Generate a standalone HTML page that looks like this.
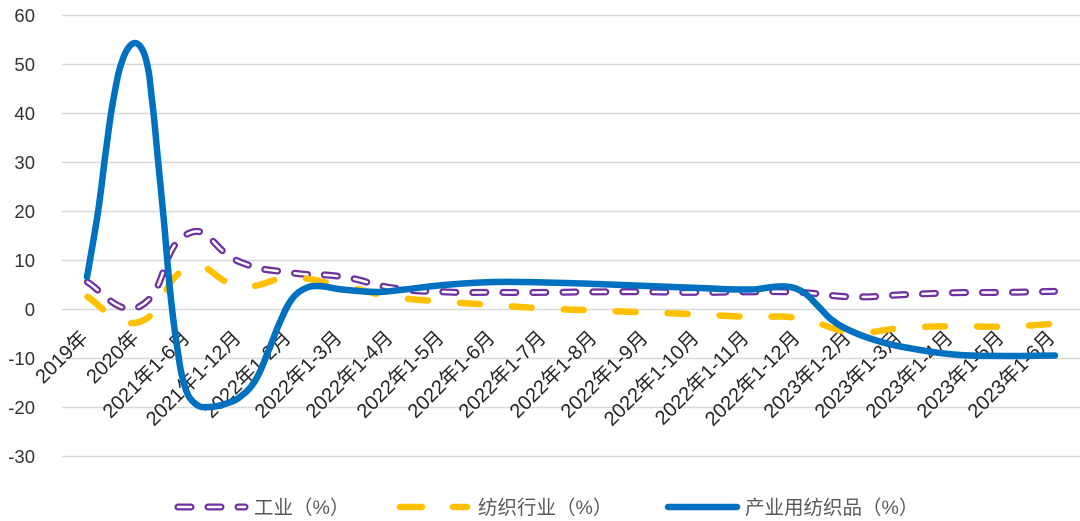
<!DOCTYPE html>
<html><head><meta charset="utf-8">
<style>
html,body{margin:0;padding:0;background:#fff;}
svg{display:block;}
text{font-family:"Liberation Sans","Noto Sans CJK SC",sans-serif;}
</style></head><body>
<svg id="c" width="1080" height="521" viewBox="0 0 1080 521" xmlns="http://www.w3.org/2000/svg">
<rect width="1080" height="521" fill="#fff"/>
<g stroke="#d9d9d9" stroke-width="1.4">
<line x1="62" y1="15.5" x2="1080" y2="15.5"/>
<line x1="62" y1="64.5" x2="1080" y2="64.5"/>
<line x1="62" y1="113.5" x2="1080" y2="113.5"/>
<line x1="62" y1="162.5" x2="1080" y2="162.5"/>
<line x1="62" y1="211.5" x2="1080" y2="211.5"/>
<line x1="62" y1="260.5" x2="1080" y2="260.5"/>
<line x1="62" y1="309.5" x2="1080" y2="309.5"/>
<line x1="62" y1="358.5" x2="1080" y2="358.5"/>
<line x1="62" y1="407.5" x2="1080" y2="407.5"/>
<line x1="62" y1="456.5" x2="1080" y2="456.5"/>
</g>
<g font-size="18.5" fill="#333" text-anchor="end">
<text x="35" y="22">60</text>
<text x="35" y="71">50</text>
<text x="35" y="120">40</text>
<text x="35" y="169">30</text>
<text x="35" y="218">20</text>
<text x="35" y="267">10</text>
<text x="35" y="316">0</text>
<text x="35" y="365">-10</text>
<text x="35" y="414">-20</text>
<text x="35" y="463">-30</text>
</g>
<g id="xl" font-size="20" fill="#262626" text-anchor="end">
<text x="89" y="339" transform="rotate(-45 89 339)">2019年</text>
<text x="140" y="339" transform="rotate(-45 140 339)">2020年</text>
<text x="191" y="339" transform="rotate(-45 191 339)">2021年1-6月</text>
<text x="242" y="339" transform="rotate(-45 242 339)">2021年1-12月</text>
<text x="292" y="339" transform="rotate(-45 292 339)">2022年1-2月</text>
<text x="343" y="339" transform="rotate(-45 343 339)">2022年1-3月</text>
<text x="394" y="339" transform="rotate(-45 394 339)">2022年1-4月</text>
<text x="445" y="339" transform="rotate(-45 445 339)">2022年1-5月</text>
<text x="496" y="339" transform="rotate(-45 496 339)">2022年1-6月</text>
<text x="547" y="339" transform="rotate(-45 547 339)">2022年1-7月</text>
<text x="598" y="339" transform="rotate(-45 598 339)">2022年1-8月</text>
<text x="649" y="339" transform="rotate(-45 649 339)">2022年1-9月</text>
<text x="700" y="339" transform="rotate(-45 700 339)">2022年1-10月</text>
<text x="750" y="339" transform="rotate(-45 750 339)">2022年1-11月</text>
<text x="801" y="339" transform="rotate(-45 801 339)">2022年1-12月</text>
<text x="852" y="339" transform="rotate(-45 852 339)">2023年1-2月</text>
<text x="903" y="339" transform="rotate(-45 903 339)">2023年1-3月</text>
<text x="954" y="339" transform="rotate(-45 954 339)">2023年1-4月</text>
<text x="1005" y="339" transform="rotate(-45 1005 339)">2023年1-5月</text>
<text x="1056" y="339" transform="rotate(-45 1056 339)">2023年1-6月</text>
</g>
<g fill="none" stroke-linecap="round" stroke-linejoin="round">
<path id="pO" stroke="#7030A0" stroke-width="7" stroke-dasharray="13 17" d=""/>
<path id="pI" stroke="#ffffff" stroke-width="2.5" stroke-dasharray="13 17" d=""/>
<path id="yl" stroke="#FFC000" stroke-width="6.5" stroke-dasharray="20 32" d=""/>
<path id="bl" stroke="#0070C0" stroke-width="6.5" d=""/>
</g>
<!-- legend -->
<g fill="none" stroke-linecap="round">
<path d="M178 507 H245" stroke="#7030A0" stroke-width="7" stroke-dasharray="13 17"/>
<path d="M178 507 H245" stroke="#ffffff" stroke-width="2.5" stroke-dasharray="13 17"/>
<path d="M400 507 H422 M453 507 H467" stroke="#FFC000" stroke-width="6.5"/>
<path d="M668 507 H737" stroke="#0070C0" stroke-width="6.5"/>
</g>
<g font-size="19.5" fill="#595959">
<text x="254" y="514">工业（%）</text>
<text x="478" y="514">纺织行业（%）</text>
<text x="745" y="514">产业用纺织品（%）</text>
</g>
</svg>
<script>
(function(){
  var X0=87.45, DX=50.9;
  function Y(v){return 309.5-4.9*v;}
  function pts(vals){return vals.map(function(v,i){return [X0+i*DX, Y(v)];});}
  function smooth(p,s){
    var n=p.length, cin=[], cout=[];
    for(var i=0;i<n;i++){
      if(i===0||i===n-1){
        var q=(i===0)?p[1]:p[n-2];
        var t=[(q[0]-p[i][0])/3,(q[1]-p[i][1])/3];
        if(i===0){cout[i]=[p[i][0]+t[0]*0.6,p[i][1]+t[1]*0.6];}
        else{cin[i]=[p[i][0]+t[0]*0.6,p[i][1]+t[1]*0.6];}
        continue;
      }
      var T=[p[i+1][0]-p[i-1][0],p[i+1][1]-p[i-1][1]];
      var d1=Math.hypot(p[i][0]-p[i-1][0],p[i][1]-p[i-1][1]);
      var d2=Math.hypot(p[i+1][0]-p[i][0],p[i+1][1]-p[i][1]);
      var a=s*d1/(d1+d2), b=s*d2/(d1+d2);
      cin[i]=[p[i][0]-T[0]*a,p[i][1]-T[1]*a];
      cout[i]=[p[i][0]+T[0]*b,p[i][1]+T[1]*b];
    }
    var d="M"+p[0][0].toFixed(1)+" "+p[0][1].toFixed(1);
    for(var j=0;j<n-1;j++){
      d+=" C"+cout[j][0].toFixed(1)+" "+cout[j][1].toFixed(1)+" "+cin[j+1][0].toFixed(1)+" "+cin[j+1][1].toFixed(1)+" "+p[j+1][0].toFixed(1)+" "+p[j+1][1].toFixed(1);
    }
    return d;
  }
  var bluePts=[[87,277],[98,212],[106,150],[114,96],[124,56],[135,43],[145,56],[152,100],[158,160],[164,222],[170,290],[177,346],[186,390],[197,405],[210,407],[225,404],[240,397],[255,381],[268,352],[280,322],[292,299],[305,288.5],[318,286],[342,289.5],[377,292],[400,290],[444,285],[495,282],[546,282.5],[597,284],[648,286],[699,288],[750,289.5],[785,286.5],[803,292],[818,306],[832,320],[852,331.5],[878,341],[903,347],[954,354.5],[1005,356],[1055,355.5]];
  var purple=[5.6,0.5,15.6,9.7,7.5,6.7,4.4,3.6,3.5,3.5,3.6,3.6,3.5,3.6,3.5,2.6,3.0,3.4,3.5,3.7];
  var yellow=[2.6,-2.6,8.6,4.8,6.4,4.8,2.6,1.6,0.9,0.2,-0.2,-0.6,-1.0,-1.5,-1.8,-4.6,-3.8,-3.4,-3.5,-2.9];
  var pd=smooth(pts(purple),0.5);
  document.getElementById('pO').setAttribute('d',pd);
  document.getElementById('pI').setAttribute('d',pd);
  document.getElementById('yl').setAttribute('d',smooth(pts(yellow),0.5));
  document.getElementById('bl').setAttribute('d',smooth(bluePts,0.4));
})();
</script>
</body></html>
